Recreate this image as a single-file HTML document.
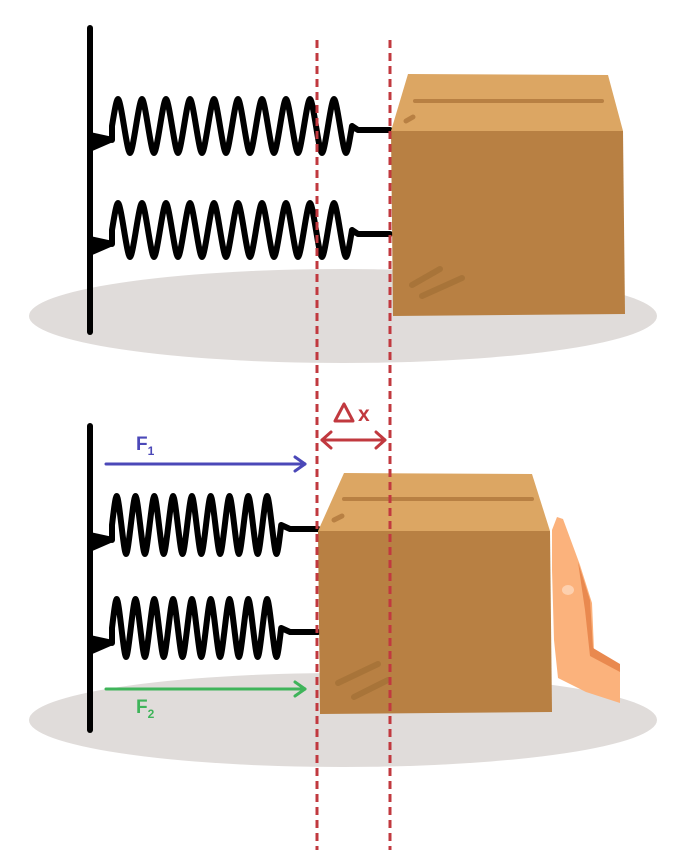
<!DOCTYPE html>
<html><head><style>body{margin:0;background:#fff}svg{display:block}</style></head>
<body>
<svg width="698" height="866" viewBox="0 0 698 866" xmlns="http://www.w3.org/2000/svg">
<defs>
<path id="c1" d="c2.3,-14 4.5,-27 6,-27 c1.5,0 3.7,13 6,27 c2.3,14 4.5,27 6,27 c1.5,0 3.7,-13 6,-27"/>
</defs>
<ellipse cx="343" cy="316" rx="314" ry="47" fill="#e0dcda"/>
<ellipse cx="343" cy="720" rx="314" ry="47" fill="#e0dcda"/>
<line x1="90" y1="28" x2="90" y2="332" stroke="#000" stroke-width="6" stroke-linecap="round"/>
<line x1="90" y1="426" x2="90" y2="730" stroke="#000" stroke-width="6" stroke-linecap="round"/>
<g fill="#000">
<polygon points="90,132 113,137 113,142 90,152"/>
<polygon points="90,236 113,241 113,246 90,256"/>
<polygon points="90,532 113,537 113,542 90,552"/>
<polygon points="90,635 113,640 113,645 90,655"/>
</g>
<g fill="none" stroke="#000" stroke-width="6" stroke-linejoin="round" stroke-linecap="round">
<path d="M112,140 L112,126 c2.3,-14 4.5,-27 6,-27 c1.5,0 3.7,13 6,27 c2.3,14 4.5,27 6,27 c1.5,0 3.7,-13 6,-27 c2.3,-14 4.5,-27 6,-27 c1.5,0 3.7,13 6,27 c2.3,14 4.5,27 6,27 c1.5,0 3.7,-13 6,-27 c2.3,-14 4.5,-27 6,-27 c1.5,0 3.7,13 6,27 c2.3,14 4.5,27 6,27 c1.5,0 3.7,-13 6,-27 c2.3,-14 4.5,-27 6,-27 c1.5,0 3.7,13 6,27 c2.3,14 4.5,27 6,27 c1.5,0 3.7,-13 6,-27 c2.3,-14 4.5,-27 6,-27 c1.5,0 3.7,13 6,27 c2.3,14 4.5,27 6,27 c1.5,0 3.7,-13 6,-27 c2.3,-14 4.5,-27 6,-27 c1.5,0 3.7,13 6,27 c2.3,14 4.5,27 6,27 c1.5,0 3.7,-13 6,-27 c2.3,-14 4.5,-27 6,-27 c1.5,0 3.7,13 6,27 c2.3,14 4.5,27 6,27 c1.5,0 3.7,-13 6,-27 c2.3,-14 4.5,-27 6,-27 c1.5,0 3.7,13 6,27 c2.3,14 4.5,27 6,27 c1.5,0 3.7,-13 6,-27 c2.3,-14 4.5,-27 6,-27 c1.5,0 3.7,13 6,27 c2.3,14 4.5,27 6,27 c1.5,0 3.7,-13 6,-27 c2.3,-14 4.5,-27 6,-27 c1.5,0 3.7,13 6,27 c2.3,14 4.5,27 6,27 c1.5,0 3.7,-13 6,-27 L358,130 L390,130"/>
<path d="M112,244 L112,230 c2.3,-14 4.5,-27 6,-27 c1.5,0 3.7,13 6,27 c2.3,14 4.5,27 6,27 c1.5,0 3.7,-13 6,-27 c2.3,-14 4.5,-27 6,-27 c1.5,0 3.7,13 6,27 c2.3,14 4.5,27 6,27 c1.5,0 3.7,-13 6,-27 c2.3,-14 4.5,-27 6,-27 c1.5,0 3.7,13 6,27 c2.3,14 4.5,27 6,27 c1.5,0 3.7,-13 6,-27 c2.3,-14 4.5,-27 6,-27 c1.5,0 3.7,13 6,27 c2.3,14 4.5,27 6,27 c1.5,0 3.7,-13 6,-27 c2.3,-14 4.5,-27 6,-27 c1.5,0 3.7,13 6,27 c2.3,14 4.5,27 6,27 c1.5,0 3.7,-13 6,-27 c2.3,-14 4.5,-27 6,-27 c1.5,0 3.7,13 6,27 c2.3,14 4.5,27 6,27 c1.5,0 3.7,-13 6,-27 c2.3,-14 4.5,-27 6,-27 c1.5,0 3.7,13 6,27 c2.3,14 4.5,27 6,27 c1.5,0 3.7,-13 6,-27 c2.3,-14 4.5,-27 6,-27 c1.5,0 3.7,13 6,27 c2.3,14 4.5,27 6,27 c1.5,0 3.7,-13 6,-27 c2.3,-14 4.5,-27 6,-27 c1.5,0 3.7,13 6,27 c2.3,14 4.5,27 6,27 c1.5,0 3.7,-13 6,-27 c2.3,-14 4.5,-27 6,-27 c1.5,0 3.7,13 6,27 c2.3,14 4.5,27 6,27 c1.5,0 3.7,-13 6,-27 L358,234 L390,234"/>
<path d="M112,540 L112,525 c1.8,-15 3.5,-29 4.7,-29 c1.2,0 2.9,14 4.7,29 c1.8,15 3.5,29 4.7,29 c1.2,0 2.9,-14 4.7,-29 c1.8,-15 3.5,-29 4.7,-29 c1.2,0 2.9,14 4.7,29 c1.8,15 3.5,29 4.7,29 c1.2,0 2.9,-14 4.7,-29 c1.8,-15 3.5,-29 4.7,-29 c1.2,0 2.9,14 4.7,29 c1.8,15 3.5,29 4.7,29 c1.2,0 2.9,-14 4.7,-29 c1.8,-15 3.5,-29 4.7,-29 c1.2,0 2.9,14 4.7,29 c1.8,15 3.5,29 4.7,29 c1.2,0 2.9,-14 4.7,-29 c1.8,-15 3.5,-29 4.7,-29 c1.2,0 2.9,14 4.7,29 c1.8,15 3.5,29 4.7,29 c1.2,0 2.9,-14 4.7,-29 c1.8,-15 3.5,-29 4.7,-29 c1.2,0 2.9,14 4.7,29 c1.8,15 3.5,29 4.7,29 c1.2,0 2.9,-14 4.7,-29 c1.8,-15 3.5,-29 4.7,-29 c1.2,0 2.9,14 4.7,29 c1.8,15 3.5,29 4.7,29 c1.2,0 2.9,-14 4.7,-29 c1.8,-15 3.5,-29 4.7,-29 c1.2,0 2.9,14 4.7,29 c1.8,15 3.5,29 4.7,29 c1.2,0 2.9,-14 4.7,-29 c1.8,-15 3.5,-29 4.7,-29 c1.2,0 2.9,14 4.7,29 c1.8,15 3.5,29 4.7,29 c1.2,0 2.9,-14 4.7,-29 L290,529 L318,529"/>
<path d="M112,643 L112,628 c1.8,-15 3.5,-29 4.7,-29 c1.2,0 2.9,14 4.7,29 c1.8,15 3.5,29 4.7,29 c1.2,0 2.9,-14 4.7,-29 c1.8,-15 3.5,-29 4.7,-29 c1.2,0 2.9,14 4.7,29 c1.8,15 3.5,29 4.7,29 c1.2,0 2.9,-14 4.7,-29 c1.8,-15 3.5,-29 4.7,-29 c1.2,0 2.9,14 4.7,29 c1.8,15 3.5,29 4.7,29 c1.2,0 2.9,-14 4.7,-29 c1.8,-15 3.5,-29 4.7,-29 c1.2,0 2.9,14 4.7,29 c1.8,15 3.5,29 4.7,29 c1.2,0 2.9,-14 4.7,-29 c1.8,-15 3.5,-29 4.7,-29 c1.2,0 2.9,14 4.7,29 c1.8,15 3.5,29 4.7,29 c1.2,0 2.9,-14 4.7,-29 c1.8,-15 3.5,-29 4.7,-29 c1.2,0 2.9,14 4.7,29 c1.8,15 3.5,29 4.7,29 c1.2,0 2.9,-14 4.7,-29 c1.8,-15 3.5,-29 4.7,-29 c1.2,0 2.9,14 4.7,29 c1.8,15 3.5,29 4.7,29 c1.2,0 2.9,-14 4.7,-29 c1.8,-15 3.5,-29 4.7,-29 c1.2,0 2.9,14 4.7,29 c1.8,15 3.5,29 4.7,29 c1.2,0 2.9,-14 4.7,-29 c1.8,-15 3.5,-29 4.7,-29 c1.2,0 2.9,14 4.7,29 c1.8,15 3.5,29 4.7,29 c1.2,0 2.9,-14 4.7,-29 L290,632 L318,632"/>
</g>
<!-- top box -->
<polygon points="408,74 608,75 623,131 391,131" fill="#dca663"/>
<polygon points="391,131 623,131 625,314 393,316" fill="#b88043"/>
<line x1="415" y1="101" x2="602" y2="101" stroke="#b88043" stroke-width="4" stroke-linecap="round"/>
<line x1="406" y1="121" x2="413" y2="117" stroke="#b88043" stroke-width="5" stroke-linecap="round"/>
<line x1="412" y1="285" x2="440" y2="269" stroke="#a87439" stroke-width="6" stroke-linecap="round"/>
<line x1="422" y1="296" x2="462" y2="278" stroke="#a87439" stroke-width="6" stroke-linecap="round"/>
<!-- bottom box -->
<polygon points="344,473 532,474 550,531 318,531" fill="#dca663"/>
<polygon points="318,531 550,531 552,712 320,714" fill="#b88043"/>
<line x1="344" y1="499" x2="532" y2="499" stroke="#b88043" stroke-width="4" stroke-linecap="round"/>
<line x1="334" y1="520" x2="342" y2="516" stroke="#b88043" stroke-width="5" stroke-linecap="round"/>
<line x1="338" y1="683" x2="378" y2="664" stroke="#a87439" stroke-width="6" stroke-linecap="round"/>
<line x1="354" y1="697" x2="388" y2="680" stroke="#a87439" stroke-width="6" stroke-linecap="round"/>
<!-- hand -->
<polygon points="552,530 557,517 563,519 580,565 592,603 594,650 620,666 620,703 586,692 558,678 554,640 552,570" fill="#fbb27c"/>
<path d="M578,562 L590,600 L593,648 L620,664 L620,672 L590,656 L585,610 Z" fill="#e9894f"/>
<ellipse cx="568" cy="590" rx="6" ry="5" fill="#fdd0ae"/>
<!-- dashed lines -->
<g stroke="#c1393f" stroke-width="3" stroke-dasharray="8 5">
<line x1="317" y1="40" x2="317" y2="850"/>
<line x1="390" y1="40" x2="390" y2="850"/>
</g>
<!-- delta x -->
<polygon points="344,404 335,421 353,421" fill="none" stroke="#c1393f" stroke-width="3" stroke-linejoin="round"/>
<text x="358" y="421" font-family="Liberation Sans, sans-serif" font-weight="bold" font-size="21" fill="#c1393f">x</text>
<g fill="none" stroke="#c1393f" stroke-width="3" stroke-linecap="round" stroke-linejoin="round">
<line x1="322" y1="440" x2="385" y2="440"/>
<polyline points="331,432 322,440 331,448"/>
<polyline points="376,432 385,440 376,448"/>
</g>
<text x="136" y="450" font-family="Liberation Sans, sans-serif" font-weight="bold" font-size="19" fill="#4b48b8">F<tspan font-size="12" dy="5">1</tspan></text>
<g fill="none" stroke="#4b48b8" stroke-width="3" stroke-linecap="round" stroke-linejoin="round">
<line x1="106" y1="464" x2="305" y2="464"/>
<polyline points="295,457 305,464 295,471"/>
</g>
<text x="136" y="713" font-family="Liberation Sans, sans-serif" font-weight="bold" font-size="19" fill="#3fb45a">F<tspan font-size="12" dy="5">2</tspan></text>
<g fill="none" stroke="#3fb45a" stroke-width="3" stroke-linecap="round" stroke-linejoin="round">
<line x1="106" y1="689" x2="305" y2="689"/>
<polyline points="295,682 305,689 295,696"/>
</g>
</svg>
</body></html>
